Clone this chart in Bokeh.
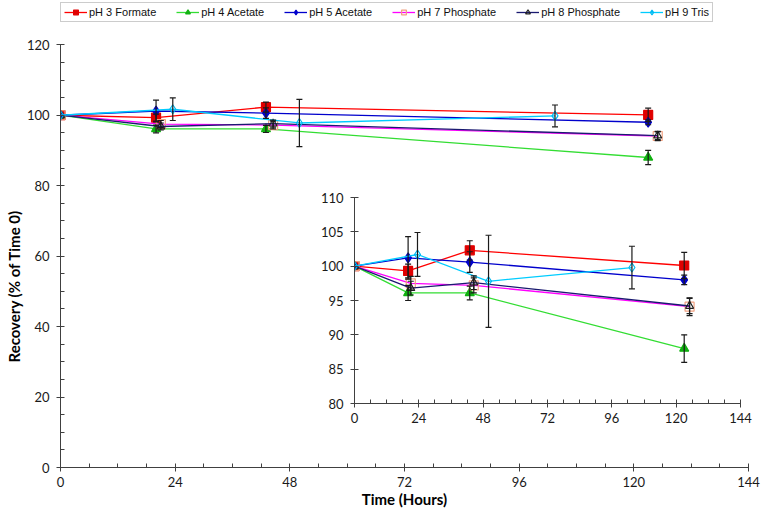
import numpy as np
from bokeh.plotting import figure
from bokeh.models import (ColumnDataSource, Whisker, FixedTicker, Legend, LegendItem,
                          TeeHead, Range1d, Title)
from bokeh.layouts import column
from bokeh.embed import file_html
from bokeh.resources import INLINE

# ---------------- data ----------------
series_names = ["pH 3 Formate", "pH 4 Acetate", "pH 5 Acetate",
                "pH 7 Phosphate", "pH 8 Phosphate", "pH 9 Tris"]

t_ph3 = [0, 20, 43, 123]
y_ph3 = [100.0, 99.3, 102.3, 100.1]
e_ph3 = [0.0, 1.0, 1.4, 1.9]

t_ph4 = [0, 20, 43, 123]
y_ph4 = [100.0, 96.1, 96.1, 88.0]
e_ph4 = [0.0, 1.1, 1.0, 2.0]

t_ph5 = [0, 20, 43, 123]
y_ph5 = [100.0, 101.2, 100.6, 98.0]
e_ph5 = [0.0, 3.1, 1.5, 0.7]

t_ph7 = [0, 21, 44.5, 125]
y_ph7 = [100.0, 97.5, 97.2, 94.1]
e_ph7 = [0.0, 1.0, 1.1, 1.3]

t_ph8 = [0, 21, 44.5, 125]
y_ph8 = [100.0, 96.8, 97.6, 94.2]
e_ph8 = [0.0, 1.0, 1.0, 1.1]

t_ph9 = [0, 23.5, 50, 103.5]
y_ph9 = [100.0, 101.7, 97.8, 99.8]
e_ph9 = [0.0, 3.2, 6.7, 3.1]

x_ticks = [0, 24, 48, 72, 96, 120, 144]
main_y_ticks = [0, 20, 40, 60, 80, 100, 120]
inset_y_ticks = [80, 85, 90, 95, 100, 105, 110]

# ---------------- styles ----------------
styles = [
    dict(line="#ff0000", marker="square", fill="#e00000", mline="#e00000", size=9, falpha=1.0),
    dict(line="#33dd33", marker="triangle", fill="#10b010", mline="#10b010", size=9, falpha=1.0),
    dict(line="#0000cc", marker="diamond", fill="#0000cc", mline="#0000cc", size=10, falpha=1.0),
    dict(line="#ff00ff", marker="square", fill="white", mline="#f0a080", size=9, falpha=0.0),
    dict(line="#1a1a70", marker="triangle", fill="white", mline="#202020", size=8, falpha=0.0),
    dict(line="#00ccff", marker="diamond", fill="white", mline="#00b8f0", size=9, falpha=0.0),
]
series = [(t_ph3, y_ph3, e_ph3), (t_ph4, y_ph4, e_ph4), (t_ph5, y_ph5, e_ph5),
          (t_ph7, y_ph7, e_ph7), (t_ph8, y_ph8, e_ph8), (t_ph9, y_ph9, e_ph9)]

TICK_FONT = "Lato"
AXIS_COLOR = "#404040"


def style_axes(fig, yticks, y_minor, y_bounds):
    fig.xgrid.visible = False
    fig.ygrid.visible = False
    fig.outline_line_color = None
    fig.xaxis.ticker = FixedTicker(ticks=x_ticks,
                                   minor_ticks=[m for m in range(0, 145, 6) if m not in x_ticks])
    fig.yaxis.ticker = FixedTicker(ticks=yticks, minor_ticks=y_minor)
    fig.yaxis.bounds = y_bounds
    for ax in (fig.xaxis[0], fig.yaxis[0]):
        ax.axis_line_color = AXIS_COLOR
        ax.major_tick_line_color = AXIS_COLOR
        ax.minor_tick_line_color = AXIS_COLOR
        ax.major_tick_in = 4
        ax.major_tick_out = 4
        ax.minor_tick_in = 4
        ax.minor_tick_out = 0
        ax.major_label_text_font = TICK_FONT
        ax.major_label_text_font_size = "13px"
        ax.major_label_text_color = "#1a1a1a"
    fig.xaxis[0].major_label_standoff = 5
    fig.yaxis[0].major_label_standoff = 7


def draw(fig):
    items = []
    for name, (t, y, e), st in zip(series_names, series, styles):
        src = ColumnDataSource(dict(t=t, y=y))
        r_line = fig.line("t", "y", source=src, line_color=st["line"], line_width=1.3)
        te = [ti for ti, ei in zip(t, e) if ei > 0]
        hi = [yi + ei for yi, ei in zip(y, e) if ei > 0]
        lo = [yi - ei for yi, ei in zip(y, e) if ei > 0]
        wsrc = ColumnDataSource(dict(t=te, hi=hi, lo=lo))
        w = Whisker(source=wsrc, base="t", upper="hi", lower="lo",
                    line_color="#1a1a1a", line_width=1.2, level="glyph",
                    upper_head=TeeHead(size=6, line_color="#1a1a1a", line_width=1.2),
                    lower_head=TeeHead(size=6, line_color="#1a1a1a", line_width=1.2))
        fig.add_layout(w)
        r_pt = fig.scatter("t", "y", source=src, marker=st["marker"], size=st["size"],
                           fill_color=st["fill"], fill_alpha=st["falpha"],
                           line_color=st["mline"], line_width=1.2)
        items.append(LegendItem(label=name, renderers=[r_line, r_pt]))
    return items


# ---------------- main figure ----------------
# frame extends up to the legend; the y axis itself is bounded to 0-120
p = figure(width=768, height=510, x_range=Range1d(0, 144), y_range=Range1d(0, 132),
           output_backend="svg", toolbar_location=None,
           min_border_left=60, min_border_right=0, min_border_top=2, min_border_bottom=41)
style_axes(p, main_y_ticks, [m for m in range(0, 121, 5) if m not in main_y_ticks], (0, 120))
items = draw(p)
p.xaxis.axis_label = "Time (Hours)"
xa = p.xaxis[0]
xa.axis_label_text_font = TICK_FONT
xa.axis_label_text_font_style = "bold"
xa.axis_label_text_font_size = "15px"
xa.axis_label_text_color = "black"
xa.axis_label_standoff = 0

ytitle = Title(text="Recovery (% of Time 0)", align="left", offset=105, standoff=2,
               text_font=TICK_FONT, text_font_style="bold", text_font_size="15px",
               text_color="black")
p.add_layout(ytitle, "left")

legend = Legend(items=items, orientation="horizontal", location="top_left",
                label_text_font="Liberation Sans", label_text_font_size="11px",
                label_text_color="#111111",
                glyph_width=23, glyph_height=12, label_standoff=2, spacing=20,
                padding=3, margin=0, border_line_color="#999999", border_line_width=1,
                label_height=12, background_fill_alpha=1.0)
p.add_layout(legend)

# ---------------- inset figure ----------------
inset = figure(width=466, height=250, x_range=Range1d(0, 144), y_range=Range1d(80, 110),
               output_backend="svg", toolbar_location=None,
               min_border_left=54, min_border_right=20, min_border_top=12, min_border_bottom=32,
               background_fill_alpha=0.0, border_fill_alpha=0.0,
               styles={"position": "absolute", "left": "294px", "top": "185px"})
style_axes(inset, inset_y_ticks, [], (80, 110))
draw(inset)

layout = column(p, inset, width=768, height=510)
open("out.html", "w").write(file_html(layout, INLINE))
